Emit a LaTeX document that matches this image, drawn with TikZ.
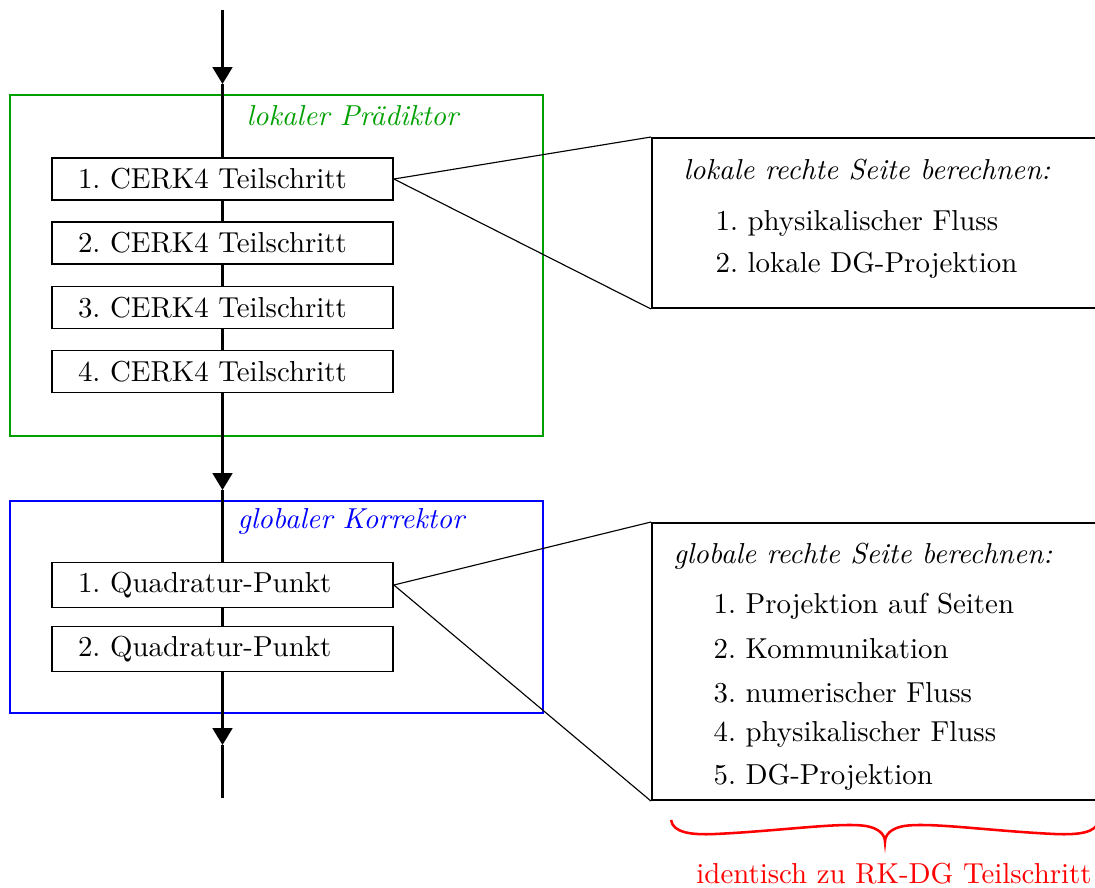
\documentclass[tikz,border=0pt]{standalone}
\usetikzlibrary{arrows.meta}
\definecolor{predgreen}{RGB}{0,160,0}
\definecolor{corrblue}{RGB}{0,0,255}
\definecolor{notered}{RGB}{255,0,0}
\AtBeginDocument{\frenchspacing\fontsize{10.2pt}{12.2pt}\selectfont}
\begin{document}
\begin{tikzpicture}[x=0.3533pt,y=-0.3533pt,
  flow/.style={line width=0.9pt},
  flowarrow/.style={line width=0.9pt,-{Triangle[width=7pt,length=6pt]}},
  stepbox/.style={draw,line width=0.6pt,minimum width=120.5pt,minimum height=14.84pt,
    inner xsep=9.19pt,text width=102.1pt,align=left},
  groupbox/.style={draw,line width=0.7pt,minimum width=188.3pt},
  infobox/.style={draw,line width=0.7pt,minimum width=212pt,anchor=north west},
  callout/.style={line width=0.4pt},
  bracestyle/.style={draw=notered,line width=0.9pt},
  grouplabel/.style={anchor=base west,inner xsep=0pt,font=\itshape},
  infotext/.style={anchor=base west,inner xsep=0pt}]
\useasboundingbox (0,0) rectangle (1095,887);
% group frames
\node[groupbox,draw=predgreen,minimum height=120.5pt] (pred) at (276.5,265.5) {};
\node[groupbox,draw=corrblue,minimum height=74.9pt] (corr) at (276.5,607) {};
\node[grouplabel,text=predgreen] (predlabel) at (246,125) {lokaler Prädiktor};
\node[grouplabel,text=corrblue] (corrlabel) at (237,528) {globaler Korrektor};
% steps
\node[stepbox] (s1) at (222.5,179) {1. CERK4 Teilschritt};
\node[stepbox] (s2) at (222.5,243) {2. CERK4 Teilschritt};
\node[stepbox] (s3) at (222.5,307.5) {3. CERK4 Teilschritt};
\node[stepbox] (s4) at (222.5,371.5) {4. CERK4 Teilschritt};
\node[stepbox] (q1) at (222.5,585) {1. Quadratur-Punkt};
\node[stepbox] (q2) at (222.5,649) {2. Quadratur-Punkt};
% flow
\coordinate (top) at (222.5,10);
\coordinate (a1) at (222.5,84);
\coordinate (a2) at (222.5,490);
\coordinate (a3) at (222.5,745);
\coordinate (bot) at (222.5,798);
\draw[flowarrow] (top) -- (a1);
\draw[flow] (a1) -- (s1.north);
\draw[flow] (s1.south) -- (s2.north);
\draw[flow] (s2.south) -- (s3.north);
\draw[flow] (s3.south) -- (s4.north);
\draw[flowarrow] (s4.south) -- (a2);
\draw[flow] (a2) -- (q1.north);
\draw[flow] (q1.south) -- (q2.north);
\draw[flowarrow] (q2.south) -- (a3);
\draw[flow] (a3) -- (bot);
% info boxes
\node[infobox,minimum height=60.06pt] (r1) at (651,137) {};
\node[infobox,minimum height=97.9pt] (r2) at (651,522) {};
\draw[callout] (s1.east) -- (r1.north west);
\draw[callout] (s1.east) -- (r1.south west);
\draw[callout] (q1.east) -- (r2.north west);
\draw[callout] (q1.east) -- (r2.south west);
\node[infotext,font=\itshape] (r1h) at (683,179) {lokale rechte Seite berechnen:};
\node[infotext] (r1a) at (715,230) {1. physikalischer Fluss};
\node[infotext] (r1b) at (715,272) {2. lokale DG-Projektion};
\node[infotext,font=\itshape] (r2h) at (673,563) {globale rechte Seite berechnen:};
\node[infotext] (r2a) at (713,613) {1. Projektion auf Seiten};
\node[infotext] (r2b) at (713,658) {2. Kommunikation};
\node[infotext] (r2c) at (713,702) {3. numerischer Fluss};
\node[infotext] (r2d) at (713,741) {4. physikalischer Fluss};
\node[infotext] (r2e) at (713,784) {5. DG-Projektion};
% brace
\coordinate (bl) at (671,820);
\coordinate (btip) at (885,842);
\coordinate (br) at (1099,820);
\draw[bracestyle] (bl) .. controls (673,833) and (692,835) .. (715,834)
  .. controls (780,831) and (840,822) .. (866,826)
  .. controls (878,828) and (885,834) .. (btip)
  .. controls (885,834) and (892,828) .. (904,826)
  .. controls (930,822) and (990,831) .. (1055,834)
  .. controls (1078,835) and (1097,833) .. (br);
\node[anchor=base,text=notered] (note) at (894,883) {identisch zu RK-DG Teilschritt};
\end{tikzpicture}
\end{document}
